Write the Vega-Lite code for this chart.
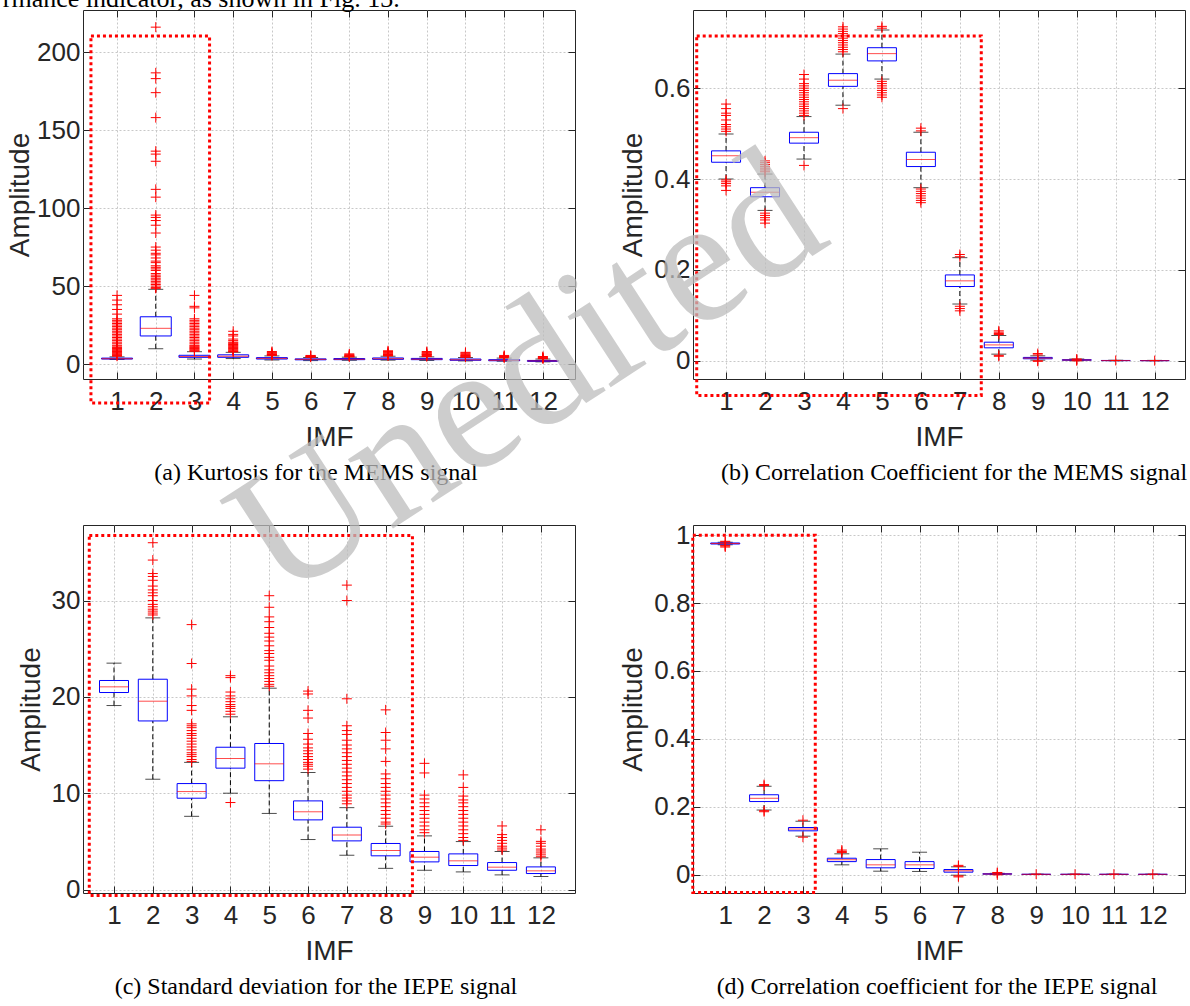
{
"$schema": "https://vega.github.io/schema/vega-lite/v6.json",
"padding": {"left": 2, "top": -15, "right": 0, "bottom": 0},
"background": "white",
"config": {
  "view": {"stroke": "#262626", "strokeWidth": 1},
  "axis": {"labelFont": "Liberation Sans", "labelFontSize": 26, "labelColor": "#262626", "titleFont": "Liberation Sans", "titleFontSize": 28, "titleFontWeight": "normal", "titleColor": "#262626", "domain": false, "tickColor": "#262626", "tickSize": -7, "grid": true, "gridColor": "#c8c8c8", "gridDash": [2, 2], "labelFlush": false, "labelOverlap": false},
  "axisX": {"labelPadding": 16, "titlePadding": 9},
  "axisY": {"labelPadding": 10, "titlePadding": 6},
  "title": {"font": "Liberation Serif", "fontSize": 24, "fontWeight": "normal", "color": "#000000", "orient": "bottom", "anchor": "middle", "frame": "group", "offset": 10}
},
"datasets": {
"boxes": [
{"p":"a","imf":1,"lo":2.9,"q1":3.2,"med":3.4,"q3":3.8,"hi":4.6},
{"p":"a","imf":2,"lo":9.8,"q1":18.0,"med":22.9,"q3":30.3,"hi":47.9},
{"p":"a","imf":3,"lo":3.2,"q1":4.3,"med":4.8,"q3":5.6,"hi":7.9},
{"p":"a","imf":4,"lo":3.5,"q1":4.3,"med":5.0,"q3":5.9,"hi":7.5},
{"p":"a","imf":5,"lo":2.6,"q1":3.2,"med":3.6,"q3":4.1,"hi":5.2},
{"p":"a","imf":6,"lo":2.2,"q1":2.7,"med":3.0,"q3":3.3,"hi":4.2},
{"p":"a","imf":7,"lo":2.4,"q1":2.8,"med":3.1,"q3":3.5,"hi":4.4},
{"p":"a","imf":8,"lo":2.5,"q1":3.0,"med":3.4,"q3":3.9,"hi":5.0},
{"p":"a","imf":9,"lo":2.3,"q1":2.8,"med":3.1,"q3":3.6,"hi":4.6},
{"p":"a","imf":10,"lo":2.0,"q1":2.4,"med":2.7,"q3":3.2,"hi":4.2},
{"p":"a","imf":11,"lo":1.8,"q1":2.1,"med":2.4,"q3":2.8,"hi":3.8},
{"p":"a","imf":12,"lo":1.4,"q1":1.7,"med":2.0,"q3":2.3,"hi":3.2},
{"p":"b","imf":1,"lo":0.4,"q1":0.437,"med":0.451,"q3":0.462,"hi":0.499},
{"p":"b","imf":2,"lo":0.331,"q1":0.361,"med":0.371,"q3":0.381,"hi":0.411},
{"p":"b","imf":3,"lo":0.444,"q1":0.479,"med":0.491,"q3":0.503,"hi":0.5375},
{"p":"b","imf":4,"lo":0.5625,"q1":0.604,"med":0.6175,"q3":0.632,"hi":0.675},
{"p":"b","imf":5,"lo":0.62,"q1":0.66,"med":0.676,"q3":0.689,"hi":0.728},
{"p":"b","imf":6,"lo":0.381,"q1":0.4275,"med":0.443,"q3":0.459,"hi":0.503},
{"p":"b","imf":7,"lo":0.125,"q1":0.1635,"med":0.176,"q3":0.189,"hi":0.227},
{"p":"b","imf":8,"lo":0.0147,"q1":0.0286,"med":0.035,"q3":0.041,"hi":0.0557},
{"p":"b","imf":9,"lo":0.0015,"q1":0.0045,"med":0.006,"q3":0.0075,"hi":0.011},
{"p":"b","imf":10,"lo":0.0003,"q1":0.0012,"med":0.0018,"q3":0.0025,"hi":0.004},
{"p":"b","imf":11,"lo":0.0001,"q1":0.0004,"med":0.0006,"q3":0.0008,"hi":0.0013},
{"p":"b","imf":12,"lo":0.0001,"q1":0.0003,"med":0.0004,"q3":0.0006,"hi":0.001},
{"p":"c","imf":1,"lo":19.1,"q1":20.45,"med":21.04,"q3":21.7,"hi":23.5},
{"p":"c","imf":2,"lo":11.45,"q1":17.5,"med":19.55,"q3":21.83,"hi":28.2},
{"p":"c","imf":3,"lo":7.6,"q1":9.48,"med":10.17,"q3":11.0,"hi":13.2},
{"p":"c","imf":4,"lo":10.0,"q1":12.6,"med":13.6,"q3":14.77,"hi":17.93},
{"p":"c","imf":5,"lo":7.9,"q1":11.3,"med":13.05,"q3":15.16,"hi":20.9},
{"p":"c","imf":6,"lo":5.19,"q1":7.23,"med":8.07,"q3":9.2,"hi":12.15},
{"p":"c","imf":7,"lo":3.56,"q1":5.05,"med":5.67,"q3":6.47,"hi":8.5},
{"p":"c","imf":8,"lo":2.2,"q1":3.5,"med":4.05,"q3":4.78,"hi":6.57},
{"p":"c","imf":9,"lo":2.0,"q1":2.87,"med":3.36,"q3":3.95,"hi":5.57},
{"p":"c","imf":10,"lo":1.83,"q1":2.49,"med":2.98,"q3":3.7,"hi":4.98},
{"p":"c","imf":11,"lo":1.52,"q1":2.0,"med":2.32,"q3":2.8,"hi":3.95},
{"p":"c","imf":12,"lo":1.35,"q1":1.66,"med":1.94,"q3":2.35,"hi":3.29},
{"p":"d","imf":1,"lo":0.972,"q1":0.974,"med":0.9755,"q3":0.977,"hi":0.979},
{"p":"d","imf":2,"lo":0.19,"q1":0.215,"med":0.2245,"q3":0.235,"hi":0.26},
{"p":"d","imf":3,"lo":0.113,"q1":0.1287,"med":0.134,"q3":0.1385,"hi":0.157},
{"p":"d","imf":4,"lo":0.0285,"q1":0.038,"med":0.0435,"q3":0.048,"hi":0.061},
{"p":"d","imf":5,"lo":0.0098,"q1":0.0197,"med":0.0285,"q3":0.044,"hi":0.0757},
{"p":"d","imf":6,"lo":0.009,"q1":0.0177,"med":0.0285,"q3":0.038,"hi":0.0657},
{"p":"d","imf":7,"lo":-0.002,"q1":0.0069,"med":0.011,"q3":0.0147,"hi":0.0226},
{"p":"d","imf":8,"lo":0.0002,"q1":0.001,"med":0.0015,"q3":0.0022,"hi":0.0035},
{"p":"d","imf":9,"lo":0.0001,"q1":0.0003,"med":0.0005,"q3":0.0007,"hi":0.001},
{"p":"d","imf":10,"lo":0.0001,"q1":0.0003,"med":0.0005,"q3":0.0007,"hi":0.001},
{"p":"d","imf":11,"lo":0.0001,"q1":0.0003,"med":0.0005,"q3":0.0007,"hi":0.001},
{"p":"d","imf":12,"lo":0.0001,"q1":0.0003,"med":0.0005,"q3":0.0007,"hi":0.001}
],
"outl": [
{"p":"a","imf":1,"v":44},{"p":"a","imf":1,"v":41},{"p":"a","imf":1,"v":38},{"p":"a","imf":1,"v":35},{"p":"a","imf":1,"v":32},{"p":"a","imf":1,"v":29},{"p":"a","imf":1,"v":28},{"p":"a","imf":1,"v":27},{"p":"a","imf":1,"v":26},{"p":"a","imf":1,"v":25},{"p":"a","imf":1,"v":24},{"p":"a","imf":1,"v":23},{"p":"a","imf":1,"v":22},{"p":"a","imf":1,"v":21},{"p":"a","imf":1,"v":20},{"p":"a","imf":1,"v":19},{"p":"a","imf":1,"v":18},{"p":"a","imf":1,"v":17},{"p":"a","imf":1,"v":16},{"p":"a","imf":1,"v":15},{"p":"a","imf":1,"v":14},{"p":"a","imf":1,"v":13},{"p":"a","imf":1,"v":12},{"p":"a","imf":1,"v":11},{"p":"a","imf":1,"v":10.5},{"p":"a","imf":1,"v":10},{"p":"a","imf":1,"v":9.5},{"p":"a","imf":1,"v":9},{"p":"a","imf":1,"v":8.5},{"p":"a","imf":1,"v":8},{"p":"a","imf":1,"v":7.5},{"p":"a","imf":1,"v":7},{"p":"a","imf":1,"v":6.5},{"p":"a","imf":1,"v":6},{"p":"a","imf":1,"v":5.5},{"p":"a","imf":1,"v":5},
{"p":"a","imf":2,"v":216},{"p":"a","imf":2,"v":186.7},{"p":"a","imf":2,"v":183},{"p":"a","imf":2,"v":174},{"p":"a","imf":2,"v":158},{"p":"a","imf":2,"v":136.5},{"p":"a","imf":2,"v":134.6},{"p":"a","imf":2,"v":130},{"p":"a","imf":2,"v":112},{"p":"a","imf":2,"v":107},{"p":"a","imf":2,"v":95.5},{"p":"a","imf":2,"v":94},{"p":"a","imf":2,"v":92},{"p":"a","imf":2,"v":89},{"p":"a","imf":2,"v":84},{"p":"a","imf":2,"v":75},{"p":"a","imf":2,"v":73},{"p":"a","imf":2,"v":71},{"p":"a","imf":2,"v":70},{"p":"a","imf":2,"v":68},{"p":"a","imf":2,"v":66},{"p":"a","imf":2,"v":65},{"p":"a","imf":2,"v":63},{"p":"a","imf":2,"v":62},{"p":"a","imf":2,"v":61},{"p":"a","imf":2,"v":60},{"p":"a","imf":2,"v":58},{"p":"a","imf":2,"v":57},{"p":"a","imf":2,"v":56},{"p":"a","imf":2,"v":55},{"p":"a","imf":2,"v":54},{"p":"a","imf":2,"v":53},{"p":"a","imf":2,"v":52},{"p":"a","imf":2,"v":51},{"p":"a","imf":2,"v":50},{"p":"a","imf":2,"v":49},{"p":"a","imf":2,"v":48.5},
{"p":"a","imf":3,"v":44},{"p":"a","imf":3,"v":37},{"p":"a","imf":3,"v":36},{"p":"a","imf":3,"v":29},{"p":"a","imf":3,"v":28},{"p":"a","imf":3,"v":27},{"p":"a","imf":3,"v":26},{"p":"a","imf":3,"v":25},{"p":"a","imf":3,"v":24},{"p":"a","imf":3,"v":23},{"p":"a","imf":3,"v":22},{"p":"a","imf":3,"v":21},{"p":"a","imf":3,"v":20},{"p":"a","imf":3,"v":19},{"p":"a","imf":3,"v":18},{"p":"a","imf":3,"v":17},{"p":"a","imf":3,"v":16},{"p":"a","imf":3,"v":15},{"p":"a","imf":3,"v":14},{"p":"a","imf":3,"v":13},{"p":"a","imf":3,"v":12},{"p":"a","imf":3,"v":11.5},{"p":"a","imf":3,"v":11},{"p":"a","imf":3,"v":10.5},{"p":"a","imf":3,"v":10},{"p":"a","imf":3,"v":9.5},{"p":"a","imf":3,"v":9},{"p":"a","imf":3,"v":8.5},{"p":"a","imf":3,"v":8.2},
{"p":"a","imf":4,"v":21},{"p":"a","imf":4,"v":19},{"p":"a","imf":4,"v":18},{"p":"a","imf":4,"v":16},{"p":"a","imf":4,"v":15},{"p":"a","imf":4,"v":14},{"p":"a","imf":4,"v":13.5},{"p":"a","imf":4,"v":13},{"p":"a","imf":4,"v":12.5},{"p":"a","imf":4,"v":12},{"p":"a","imf":4,"v":11.5},{"p":"a","imf":4,"v":11},{"p":"a","imf":4,"v":10.5},{"p":"a","imf":4,"v":10},{"p":"a","imf":4,"v":9.5},{"p":"a","imf":4,"v":9},{"p":"a","imf":4,"v":8.5},{"p":"a","imf":4,"v":8},{"p":"a","imf":4,"v":7.8},
{"p":"a","imf":5,"v":8},{"p":"a","imf":5,"v":7.5},{"p":"a","imf":5,"v":7},{"p":"a","imf":5,"v":6.5},{"p":"a","imf":5,"v":6.2},{"p":"a","imf":5,"v":6},{"p":"a","imf":5,"v":5.8},{"p":"a","imf":5,"v":5.5},
{"p":"a","imf":6,"v":5.5},{"p":"a","imf":6,"v":5.2},{"p":"a","imf":6,"v":5},{"p":"a","imf":6,"v":4.8},{"p":"a","imf":6,"v":4.6},{"p":"a","imf":6,"v":4.4},
{"p":"a","imf":7,"v":6.5},{"p":"a","imf":7,"v":6},{"p":"a","imf":7,"v":5.5},{"p":"a","imf":7,"v":5.2},{"p":"a","imf":7,"v":5},{"p":"a","imf":7,"v":4.8},{"p":"a","imf":7,"v":4.6},
{"p":"a","imf":8,"v":8.5},{"p":"a","imf":8,"v":8},{"p":"a","imf":8,"v":7.5},{"p":"a","imf":8,"v":7},{"p":"a","imf":8,"v":6.5},{"p":"a","imf":8,"v":6.2},{"p":"a","imf":8,"v":6},{"p":"a","imf":8,"v":5.8},{"p":"a","imf":8,"v":5.5},{"p":"a","imf":8,"v":5.2},
{"p":"a","imf":9,"v":8},{"p":"a","imf":9,"v":7.5},{"p":"a","imf":9,"v":7},{"p":"a","imf":9,"v":6.5},{"p":"a","imf":9,"v":6.2},{"p":"a","imf":9,"v":6},{"p":"a","imf":9,"v":5.5},{"p":"a","imf":9,"v":5},{"p":"a","imf":9,"v":4.8},
{"p":"a","imf":10,"v":7.5},{"p":"a","imf":10,"v":7},{"p":"a","imf":10,"v":6.5},{"p":"a","imf":10,"v":6},{"p":"a","imf":10,"v":5.5},{"p":"a","imf":10,"v":5.2},{"p":"a","imf":10,"v":5},{"p":"a","imf":10,"v":4.6},{"p":"a","imf":10,"v":4.4},
{"p":"a","imf":11,"v":5.5},{"p":"a","imf":11,"v":5},{"p":"a","imf":11,"v":4.8},{"p":"a","imf":11,"v":4.5},{"p":"a","imf":11,"v":4.2},{"p":"a","imf":11,"v":4},
{"p":"a","imf":12,"v":4.8},{"p":"a","imf":12,"v":4.4},{"p":"a","imf":12,"v":4},{"p":"a","imf":12,"v":3.8},{"p":"a","imf":12,"v":3.6},{"p":"a","imf":12,"v":3.4},
{"p":"b","imf":1,"v":0.565},{"p":"b","imf":1,"v":0.555},{"p":"b","imf":1,"v":0.545},{"p":"b","imf":1,"v":0.54},{"p":"b","imf":1,"v":0.53},{"p":"b","imf":1,"v":0.52},{"p":"b","imf":1,"v":0.515},{"p":"b","imf":1,"v":0.51},{"p":"b","imf":1,"v":0.505},{"p":"b","imf":1,"v":0.398},{"p":"b","imf":1,"v":0.394},{"p":"b","imf":1,"v":0.39},{"p":"b","imf":1,"v":0.385},{"p":"b","imf":1,"v":0.375},
{"p":"b","imf":2,"v":0.44},{"p":"b","imf":2,"v":0.436},{"p":"b","imf":2,"v":0.432},{"p":"b","imf":2,"v":0.428},{"p":"b","imf":2,"v":0.424},{"p":"b","imf":2,"v":0.42},{"p":"b","imf":2,"v":0.416},{"p":"b","imf":2,"v":0.325},{"p":"b","imf":2,"v":0.32},{"p":"b","imf":2,"v":0.315},{"p":"b","imf":2,"v":0.31},{"p":"b","imf":2,"v":0.303},
{"p":"b","imf":3,"v":0.63},{"p":"b","imf":3,"v":0.62},{"p":"b","imf":3,"v":0.61},{"p":"b","imf":3,"v":0.605},{"p":"b","imf":3,"v":0.6},{"p":"b","imf":3,"v":0.595},{"p":"b","imf":3,"v":0.59},{"p":"b","imf":3,"v":0.585},{"p":"b","imf":3,"v":0.58},{"p":"b","imf":3,"v":0.575},{"p":"b","imf":3,"v":0.57},{"p":"b","imf":3,"v":0.565},{"p":"b","imf":3,"v":0.56},{"p":"b","imf":3,"v":0.555},{"p":"b","imf":3,"v":0.55},{"p":"b","imf":3,"v":0.545},{"p":"b","imf":3,"v":0.54},{"p":"b","imf":3,"v":0.43},
{"p":"b","imf":4,"v":0.735},{"p":"b","imf":4,"v":0.73},{"p":"b","imf":4,"v":0.725},{"p":"b","imf":4,"v":0.72},{"p":"b","imf":4,"v":0.715},{"p":"b","imf":4,"v":0.71},{"p":"b","imf":4,"v":0.705},{"p":"b","imf":4,"v":0.7},{"p":"b","imf":4,"v":0.695},{"p":"b","imf":4,"v":0.69},{"p":"b","imf":4,"v":0.685},{"p":"b","imf":4,"v":0.68},{"p":"b","imf":4,"v":0.555},
{"p":"b","imf":5,"v":0.736},{"p":"b","imf":5,"v":0.732},{"p":"b","imf":5,"v":0.615},{"p":"b","imf":5,"v":0.61},{"p":"b","imf":5,"v":0.605},{"p":"b","imf":5,"v":0.6},{"p":"b","imf":5,"v":0.595},{"p":"b","imf":5,"v":0.59},{"p":"b","imf":5,"v":0.585},{"p":"b","imf":5,"v":0.58},
{"p":"b","imf":6,"v":0.512},{"p":"b","imf":6,"v":0.506},{"p":"b","imf":6,"v":0.378},{"p":"b","imf":6,"v":0.373},{"p":"b","imf":6,"v":0.368},{"p":"b","imf":6,"v":0.363},{"p":"b","imf":6,"v":0.358},{"p":"b","imf":6,"v":0.353},{"p":"b","imf":6,"v":0.348},
{"p":"b","imf":7,"v":0.234},{"p":"b","imf":7,"v":0.229},{"p":"b","imf":7,"v":0.12},{"p":"b","imf":7,"v":0.115},{"p":"b","imf":7,"v":0.11},
{"p":"b","imf":8,"v":0.066},{"p":"b","imf":8,"v":0.063},{"p":"b","imf":8,"v":0.06},{"p":"b","imf":8,"v":0.058},{"p":"b","imf":8,"v":0.012},{"p":"b","imf":8,"v":0.01},
{"p":"b","imf":9,"v":0.016},{"p":"b","imf":9,"v":0.013},{"p":"b","imf":9,"v":0.0},{"p":"b","imf":9,"v":-0.001},
{"p":"b","imf":10,"v":0.004},{"p":"b","imf":10,"v":0.002},{"p":"b","imf":10,"v":0.0},
{"p":"b","imf":11,"v":0.0008},{"p":"b","imf":12,"v":0.0005},
{"p":"c","imf":2,"v":36.0},{"p":"c","imf":2,"v":34.2},{"p":"c","imf":2,"v":32.8},{"p":"c","imf":2,"v":32.5},{"p":"c","imf":2,"v":32.1},{"p":"c","imf":2,"v":31.5},{"p":"c","imf":2,"v":31.1},{"p":"c","imf":2,"v":30.8},{"p":"c","imf":2,"v":30.5},{"p":"c","imf":2,"v":30.0},{"p":"c","imf":2,"v":29.6},{"p":"c","imf":2,"v":29.35},{"p":"c","imf":2,"v":29.1},{"p":"c","imf":2,"v":28.9},{"p":"c","imf":2,"v":28.7},{"p":"c","imf":2,"v":28.5},
{"p":"c","imf":3,"v":27.5},{"p":"c","imf":3,"v":23.46},{"p":"c","imf":3,"v":20.8},{"p":"c","imf":3,"v":20.1},{"p":"c","imf":3,"v":19.1},{"p":"c","imf":3,"v":18.6},{"p":"c","imf":3,"v":17.2},{"p":"c","imf":3,"v":17.0},{"p":"c","imf":3,"v":16.8},{"p":"c","imf":3,"v":16.5},{"p":"c","imf":3,"v":16.2},{"p":"c","imf":3,"v":16.0},{"p":"c","imf":3,"v":15.7},{"p":"c","imf":3,"v":15.4},{"p":"c","imf":3,"v":15.1},{"p":"c","imf":3,"v":14.8},{"p":"c","imf":3,"v":14.5},{"p":"c","imf":3,"v":14.2},{"p":"c","imf":3,"v":14.0},{"p":"c","imf":3,"v":13.8},{"p":"c","imf":3,"v":13.5},{"p":"c","imf":3,"v":13.3},
{"p":"c","imf":4,"v":22.2},{"p":"c","imf":4,"v":22.0},{"p":"c","imf":4,"v":20.5},{"p":"c","imf":4,"v":20.1},{"p":"c","imf":4,"v":19.8},{"p":"c","imf":4,"v":19.5},{"p":"c","imf":4,"v":19.2},{"p":"c","imf":4,"v":19.0},{"p":"c","imf":4,"v":18.8},{"p":"c","imf":4,"v":18.5},{"p":"c","imf":4,"v":18.2},{"p":"c","imf":4,"v":9.03},
{"p":"c","imf":5,"v":30.5},{"p":"c","imf":5,"v":29.3},{"p":"c","imf":5,"v":28.3},{"p":"c","imf":5,"v":27.8},{"p":"c","imf":5,"v":27.2},{"p":"c","imf":5,"v":26.6},{"p":"c","imf":5,"v":26.2},{"p":"c","imf":5,"v":25.8},{"p":"c","imf":5,"v":25.3},{"p":"c","imf":5,"v":24.8},{"p":"c","imf":5,"v":24.5},{"p":"c","imf":5,"v":24.1},{"p":"c","imf":5,"v":23.8},{"p":"c","imf":5,"v":23.2},{"p":"c","imf":5,"v":22.8},{"p":"c","imf":5,"v":22.5},{"p":"c","imf":5,"v":22.2},{"p":"c","imf":5,"v":21.9},{"p":"c","imf":5,"v":21.6},{"p":"c","imf":5,"v":21.3},{"p":"c","imf":5,"v":21.1},
{"p":"c","imf":6,"v":20.6},{"p":"c","imf":6,"v":20.3},{"p":"c","imf":6,"v":18.6},{"p":"c","imf":6,"v":17.8},{"p":"c","imf":6,"v":16.2},{"p":"c","imf":6,"v":15.6},{"p":"c","imf":6,"v":15.1},{"p":"c","imf":6,"v":14.7},{"p":"c","imf":6,"v":14.4},{"p":"c","imf":6,"v":14.1},{"p":"c","imf":6,"v":13.8},{"p":"c","imf":6,"v":13.5},{"p":"c","imf":6,"v":13.2},{"p":"c","imf":6,"v":13.0},{"p":"c","imf":6,"v":12.8},{"p":"c","imf":6,"v":12.5},
{"p":"c","imf":7,"v":31.6},{"p":"c","imf":7,"v":30.0},{"p":"c","imf":7,"v":19.8},{"p":"c","imf":7,"v":17.0},{"p":"c","imf":7,"v":16.5},{"p":"c","imf":7,"v":16.1},{"p":"c","imf":7,"v":15.5},{"p":"c","imf":7,"v":15.0},{"p":"c","imf":7,"v":14.6},{"p":"c","imf":7,"v":14.2},{"p":"c","imf":7,"v":13.8},{"p":"c","imf":7,"v":13.4},{"p":"c","imf":7,"v":13.0},{"p":"c","imf":7,"v":12.6},{"p":"c","imf":7,"v":12.2},{"p":"c","imf":7,"v":11.8},{"p":"c","imf":7,"v":11.4},{"p":"c","imf":7,"v":11.0},{"p":"c","imf":7,"v":10.6},{"p":"c","imf":7,"v":10.2},{"p":"c","imf":7,"v":9.8},{"p":"c","imf":7,"v":9.5},{"p":"c","imf":7,"v":9.2},{"p":"c","imf":7,"v":8.9},
{"p":"c","imf":8,"v":18.65},{"p":"c","imf":8,"v":16.3},{"p":"c","imf":8,"v":15.5},{"p":"c","imf":8,"v":14.6},{"p":"c","imf":8,"v":13.3},{"p":"c","imf":8,"v":12.0},{"p":"c","imf":8,"v":11.5},{"p":"c","imf":8,"v":11.0},{"p":"c","imf":8,"v":10.6},{"p":"c","imf":8,"v":10.2},{"p":"c","imf":8,"v":9.8},{"p":"c","imf":8,"v":9.4},{"p":"c","imf":8,"v":9.0},{"p":"c","imf":8,"v":8.6},{"p":"c","imf":8,"v":8.2},{"p":"c","imf":8,"v":7.8},{"p":"c","imf":8,"v":7.4},{"p":"c","imf":8,"v":7.0},{"p":"c","imf":8,"v":6.8},
{"p":"c","imf":9,"v":13.1},{"p":"c","imf":9,"v":12.1},{"p":"c","imf":9,"v":9.8},{"p":"c","imf":9,"v":9.4},{"p":"c","imf":9,"v":9.0},{"p":"c","imf":9,"v":8.6},{"p":"c","imf":9,"v":8.2},{"p":"c","imf":9,"v":7.8},{"p":"c","imf":9,"v":7.4},{"p":"c","imf":9,"v":7.0},{"p":"c","imf":9,"v":6.6},{"p":"c","imf":9,"v":6.2},{"p":"c","imf":9,"v":5.9},
{"p":"c","imf":10,"v":11.9},{"p":"c","imf":10,"v":10.6},{"p":"c","imf":10,"v":9.7},{"p":"c","imf":10,"v":9.3},{"p":"c","imf":10,"v":9.0},{"p":"c","imf":10,"v":8.6},{"p":"c","imf":10,"v":8.2},{"p":"c","imf":10,"v":7.8},{"p":"c","imf":10,"v":7.4},{"p":"c","imf":10,"v":7.0},{"p":"c","imf":10,"v":6.6},{"p":"c","imf":10,"v":6.2},{"p":"c","imf":10,"v":5.8},{"p":"c","imf":10,"v":5.4},{"p":"c","imf":10,"v":5.1},
{"p":"c","imf":11,"v":6.6},{"p":"c","imf":11,"v":5.7},{"p":"c","imf":11,"v":5.4},{"p":"c","imf":11,"v":5.1},{"p":"c","imf":11,"v":4.8},{"p":"c","imf":11,"v":4.5},{"p":"c","imf":11,"v":4.3},{"p":"c","imf":11,"v":4.1},
{"p":"c","imf":12,"v":6.2},{"p":"c","imf":12,"v":5.0},{"p":"c","imf":12,"v":4.8},{"p":"c","imf":12,"v":4.5},{"p":"c","imf":12,"v":4.2},{"p":"c","imf":12,"v":4.0},{"p":"c","imf":12,"v":3.8},{"p":"c","imf":12,"v":3.6},{"p":"c","imf":12,"v":3.4},
{"p":"d","imf":1,"v":0.982},{"p":"d","imf":1,"v":0.98},{"p":"d","imf":1,"v":0.97},{"p":"d","imf":1,"v":0.968},{"p":"d","imf":1,"v":0.965},
{"p":"d","imf":2,"v":0.265},{"p":"d","imf":2,"v":0.262},{"p":"d","imf":2,"v":0.188},{"p":"d","imf":2,"v":0.185},
{"p":"d","imf":3,"v":0.16},{"p":"d","imf":3,"v":0.11},
{"p":"d","imf":4,"v":0.072},{"p":"d","imf":4,"v":0.068},{"p":"d","imf":4,"v":0.065},
{"p":"d","imf":7,"v":0.027},{"p":"d","imf":7,"v":0.024},{"p":"d","imf":7,"v":-0.004},{"p":"d","imf":7,"v":-0.007},
{"p":"d","imf":8,"v":0.006},{"p":"d","imf":8,"v":0.004},{"p":"d","imf":8,"v":-0.001},
{"p":"d","imf":9,"v":0.001},{"p":"d","imf":10,"v":0.001},{"p":"d","imf":11,"v":0.001},{"p":"d","imf":12,"v":0.001}
]
},
"columns": 2,
"spacing": {"row": 146, "column": 118},
"bounds": "flush",
"concat": [
{
"width": 492, "height": 369,
"title": {"text": "(a) Kurtosis for the MEMS signal", "dx": -13},
"resolve": {"axis": {"x": "independent", "y": "independent"}},
"layer": [
{"data": {"name": "boxes"}, "transform": [{"filter": "datum.p === 'a'"}],
 "mark": {"type": "rule", "color": "#000000", "strokeDash": [5, 3], "strokeWidth": 1},
 "encoding": {"x": {"field": "imf", "type": "quantitative", "scale": {"domain": [0.25, 12.7], "nice": false, "zero": false}, "axis": {"values": [1,2,3,4,5,6,7,8,9,10,11,12], "format": "d", "title": "IMF"}},
  "y": {"field": "lo", "type": "quantitative", "scale": {"domain": [-9.6, 227], "nice": false, "zero": false}, "axis": {"values": [0, 50, 100, 150, 200], "format": "d", "title": "Amplitude", "titlePadding": 2}},
  "y2": {"field": "q1"}}},
{"data": {"name": "boxes"}, "transform": [{"filter": "datum.p === 'a'"}],
 "mark": {"type": "rule", "color": "#000000", "strokeDash": [5, 3], "strokeWidth": 1},
 "encoding": {"x": {"field": "imf", "type": "quantitative", "scale": {"domain": [0.25, 12.7], "nice": false, "zero": false}, "axis": null},
  "y": {"field": "q3", "type": "quantitative", "scale": {"domain": [-9.6, 227], "nice": false, "zero": false}, "axis": null},
  "y2": {"field": "hi"}}},
{"data": {"name": "boxes"}, "transform": [{"filter": "datum.p === 'a'"}],
 "mark": {"type": "tick", "orient": "horizontal", "size": 15, "thickness": 1, "color": "#000000"},
 "encoding": {"x": {"field": "imf", "type": "quantitative", "scale": {"domain": [0.25, 12.7], "nice": false, "zero": false}, "axis": null},
  "y": {"field": "lo", "type": "quantitative", "scale": {"domain": [-9.6, 227], "nice": false, "zero": false}, "axis": null}}},
{"data": {"name": "boxes"}, "transform": [{"filter": "datum.p === 'a'"}],
 "mark": {"type": "tick", "orient": "horizontal", "size": 15, "thickness": 1, "color": "#000000"},
 "encoding": {"x": {"field": "imf", "type": "quantitative", "scale": {"domain": [0.25, 12.7], "nice": false, "zero": false}, "axis": null},
  "y": {"field": "hi", "type": "quantitative", "scale": {"domain": [-9.6, 227], "nice": false, "zero": false}, "axis": null}}},
{"data": {"name": "boxes"}, "transform": [{"filter": "datum.p === 'a'"}],
 "mark": {"type": "bar", "orient": "vertical", "size": 31, "fillOpacity": 0, "stroke": "#0000ff", "strokeWidth": 1},
 "encoding": {"x": {"field": "imf", "type": "quantitative", "scale": {"domain": [0.25, 12.7], "nice": false, "zero": false}, "axis": null},
  "y": {"field": "q1", "type": "quantitative", "scale": {"domain": [-9.6, 227], "nice": false, "zero": false}, "axis": null},
  "y2": {"field": "q3"}}},
{"data": {"name": "boxes"}, "transform": [{"filter": "datum.p === 'a'"}],
 "mark": {"type": "tick", "orient": "horizontal", "size": 31, "thickness": 1, "color": "#ff0000"},
 "encoding": {"x": {"field": "imf", "type": "quantitative", "scale": {"domain": [0.25, 12.7], "nice": false, "zero": false}, "axis": null},
  "y": {"field": "med", "type": "quantitative", "scale": {"domain": [-9.6, 227], "nice": false, "zero": false}, "axis": null}}},
{"data": {"name": "outl"}, "transform": [{"filter": "datum.p === 'a'"}],
 "mark": {"type": "point", "shape": "M-1,0L1,0M0,-1L0,1", "size": 100, "filled": false, "color": "#ff0000", "strokeWidth": 1, "opacity": 1},
 "encoding": {"x": {"field": "imf", "type": "quantitative", "scale": {"domain": [0.25, 12.7], "nice": false, "zero": false}, "axis": null},
  "y": {"field": "v", "type": "quantitative", "scale": {"domain": [-9.6, 227], "nice": false, "zero": false}, "axis": null}}},
{"data": {"values": [{}]},
 "mark": {"type": "rect", "filled": false, "color": "#ff0000", "strokeWidth": 3, "strokeDash": [3, 3], "clip": false},
 "encoding": {"x": {"datum": 0.326, "type": "quantitative", "scale": {"domain": [0.25, 12.7], "nice": false, "zero": false}, "axis": null}, "x2": {"datum": 3.39},
  "y": {"datum": 210.3, "type": "quantitative", "scale": {"domain": [-9.6, 227], "nice": false, "zero": false}, "axis": null}, "y2": {"datum": -25}}},
{"data": {"values": [{}]},
 "mark": {"type": "text", "text": "rmance indicator, as shown in Fig. 13.", "font": "Liberation Serif", "fontSize": 26, "align": "left", "baseline": "alphabetic", "color": "#000000"},
 "encoding": {"x": {"datum": -1.95, "type": "quantitative", "scale": {"domain": [0.25, 12.7], "nice": false, "zero": false}, "axis": null},
  "y": {"datum": 228.9, "type": "quantitative", "scale": {"domain": [-9.6, 227], "nice": false, "zero": false}, "axis": null}}},
{"data": {"name": "boxes"}, "transform": [{"filter": "datum.p === 'a'"}],
 "mark": {"type": "point", "opacity": 0},
 "encoding": {"x": {"field": "imf", "type": "quantitative", "scale": {"domain": [0.25, 12.7], "nice": false, "zero": false}, "axis": {"orient": "top", "values": [1,2,3,4,5,6,7,8,9,10,11,12], "labels": false, "title": null, "grid": false}},
  "y": {"field": "med", "type": "quantitative", "scale": {"domain": [-9.6, 227], "nice": false, "zero": false}, "axis": {"orient": "right", "values": [0, 50, 100, 150, 200], "labels": false, "title": null, "grid": false}}}}
]
},
{
"width": 492, "height": 369,
"title": {"text": "(b) Correlation Coefficient for the MEMS signal", "dx": 15},
"resolve": {"axis": {"x": "independent", "y": "independent"}},
"layer": [
{"data": {"name": "boxes"}, "transform": [{"filter": "datum.p === 'b'"}],
 "mark": {"type": "rule", "color": "#000000", "strokeDash": [5, 3], "strokeWidth": 1},
 "encoding": {"x": {"field": "imf", "type": "quantitative", "scale": {"domain": [0.28, 12.65], "nice": false, "zero": false}, "axis": {"values": [1,2,3,4,5,6,7,8,9,10,11,12], "format": "d", "title": "IMF"}},
  "y": {"field": "lo", "type": "quantitative", "scale": {"domain": [-0.04, 0.772], "nice": false, "zero": false}, "axis": {"values": [0, 0.2, 0.4, 0.6], "format": "~g", "title": "Amplitude"}},
  "y2": {"field": "q1"}}},
{"data": {"name": "boxes"}, "transform": [{"filter": "datum.p === 'b'"}],
 "mark": {"type": "rule", "color": "#000000", "strokeDash": [5, 3], "strokeWidth": 1},
 "encoding": {"x": {"field": "imf", "type": "quantitative", "scale": {"domain": [0.28, 12.65], "nice": false, "zero": false}, "axis": null},
  "y": {"field": "q3", "type": "quantitative", "scale": {"domain": [-0.04, 0.772], "nice": false, "zero": false}, "axis": null},
  "y2": {"field": "hi"}}},
{"data": {"name": "boxes"}, "transform": [{"filter": "datum.p === 'b'"}],
 "mark": {"type": "tick", "orient": "horizontal", "size": 15, "thickness": 1, "color": "#000000"},
 "encoding": {"x": {"field": "imf", "type": "quantitative", "scale": {"domain": [0.28, 12.65], "nice": false, "zero": false}, "axis": null},
  "y": {"field": "lo", "type": "quantitative", "scale": {"domain": [-0.04, 0.772], "nice": false, "zero": false}, "axis": null}}},
{"data": {"name": "boxes"}, "transform": [{"filter": "datum.p === 'b'"}],
 "mark": {"type": "tick", "orient": "horizontal", "size": 15, "thickness": 1, "color": "#000000"},
 "encoding": {"x": {"field": "imf", "type": "quantitative", "scale": {"domain": [0.28, 12.65], "nice": false, "zero": false}, "axis": null},
  "y": {"field": "hi", "type": "quantitative", "scale": {"domain": [-0.04, 0.772], "nice": false, "zero": false}, "axis": null}}},
{"data": {"name": "boxes"}, "transform": [{"filter": "datum.p === 'b'"}],
 "mark": {"type": "bar", "orient": "vertical", "size": 29, "fillOpacity": 0, "stroke": "#0000ff", "strokeWidth": 1},
 "encoding": {"x": {"field": "imf", "type": "quantitative", "scale": {"domain": [0.28, 12.65], "nice": false, "zero": false}, "axis": null},
  "y": {"field": "q1", "type": "quantitative", "scale": {"domain": [-0.04, 0.772], "nice": false, "zero": false}, "axis": null},
  "y2": {"field": "q3"}}},
{"data": {"name": "boxes"}, "transform": [{"filter": "datum.p === 'b'"}],
 "mark": {"type": "tick", "orient": "horizontal", "size": 29, "thickness": 1, "color": "#ff0000"},
 "encoding": {"x": {"field": "imf", "type": "quantitative", "scale": {"domain": [0.28, 12.65], "nice": false, "zero": false}, "axis": null},
  "y": {"field": "med", "type": "quantitative", "scale": {"domain": [-0.04, 0.772], "nice": false, "zero": false}, "axis": null}}},
{"data": {"name": "outl"}, "transform": [{"filter": "datum.p === 'b'"}],
 "mark": {"type": "point", "shape": "M-1,0L1,0M0,-1L0,1", "size": 100, "filled": false, "color": "#ff0000", "strokeWidth": 1, "opacity": 1},
 "encoding": {"x": {"field": "imf", "type": "quantitative", "scale": {"domain": [0.28, 12.65], "nice": false, "zero": false}, "axis": null},
  "y": {"field": "v", "type": "quantitative", "scale": {"domain": [-0.04, 0.772], "nice": false, "zero": false}, "axis": null}}},
{"data": {"values": [{}]},
 "mark": {"type": "rect", "filled": false, "color": "#ff0000", "strokeWidth": 3, "strokeDash": [3, 3], "clip": false},
 "encoding": {"x": {"datum": 0.247, "type": "quantitative", "scale": {"domain": [0.28, 12.65], "nice": false, "zero": false}, "axis": null}, "x2": {"datum": 7.55},
  "y": {"datum": 0.715, "type": "quantitative", "scale": {"domain": [-0.04, 0.772], "nice": false, "zero": false}, "axis": null}, "y2": {"datum": -0.0763}}},
{"data": {"name": "boxes"}, "transform": [{"filter": "datum.p === 'b'"}],
 "mark": {"type": "point", "opacity": 0},
 "encoding": {"x": {"field": "imf", "type": "quantitative", "scale": {"domain": [0.28, 12.65], "nice": false, "zero": false}, "axis": {"orient": "top", "values": [1,2,3,4,5,6,7,8,9,10,11,12], "labels": false, "title": null, "grid": false}},
  "y": {"field": "med", "type": "quantitative", "scale": {"domain": [-0.04, 0.772], "nice": false, "zero": false}, "axis": {"orient": "right", "values": [0, 0.2, 0.4, 0.6], "labels": false, "title": null, "grid": false}}}}
]
},
{
"width": 492, "height": 368,
"title": {"text": "(c) Standard deviation for the IEPE signal", "dx": -13},
"resolve": {"axis": {"x": "independent", "y": "independent"}},
"layer": [
{"data": {"name": "boxes"}, "transform": [{"filter": "datum.p === 'c'"}],
 "mark": {"type": "rule", "color": "#000000", "strokeDash": [5, 3], "strokeWidth": 1},
 "encoding": {"x": {"field": "imf", "type": "quantitative", "scale": {"domain": [0.33, 12.75], "nice": false, "zero": false}, "axis": {"values": [1,2,3,4,5,6,7,8,9,10,11,12], "format": "d", "title": "IMF"}},
  "y": {"field": "lo", "type": "quantitative", "scale": {"domain": [-0.36, 37.84], "nice": false, "zero": false}, "axis": {"values": [0, 10, 20, 30], "format": "d", "title": "Amplitude"}},
  "y2": {"field": "q1"}}},
{"data": {"name": "boxes"}, "transform": [{"filter": "datum.p === 'c'"}],
 "mark": {"type": "rule", "color": "#000000", "strokeDash": [5, 3], "strokeWidth": 1},
 "encoding": {"x": {"field": "imf", "type": "quantitative", "scale": {"domain": [0.33, 12.75], "nice": false, "zero": false}, "axis": null},
  "y": {"field": "q3", "type": "quantitative", "scale": {"domain": [-0.36, 37.84], "nice": false, "zero": false}, "axis": null},
  "y2": {"field": "hi"}}},
{"data": {"name": "boxes"}, "transform": [{"filter": "datum.p === 'c'"}],
 "mark": {"type": "tick", "orient": "horizontal", "size": 15, "thickness": 1, "color": "#000000"},
 "encoding": {"x": {"field": "imf", "type": "quantitative", "scale": {"domain": [0.33, 12.75], "nice": false, "zero": false}, "axis": null},
  "y": {"field": "lo", "type": "quantitative", "scale": {"domain": [-0.36, 37.84], "nice": false, "zero": false}, "axis": null}}},
{"data": {"name": "boxes"}, "transform": [{"filter": "datum.p === 'c'"}],
 "mark": {"type": "tick", "orient": "horizontal", "size": 15, "thickness": 1, "color": "#000000"},
 "encoding": {"x": {"field": "imf", "type": "quantitative", "scale": {"domain": [0.33, 12.75], "nice": false, "zero": false}, "axis": null},
  "y": {"field": "hi", "type": "quantitative", "scale": {"domain": [-0.36, 37.84], "nice": false, "zero": false}, "axis": null}}},
{"data": {"name": "boxes"}, "transform": [{"filter": "datum.p === 'c'"}],
 "mark": {"type": "bar", "orient": "vertical", "size": 29, "fillOpacity": 0, "stroke": "#0000ff", "strokeWidth": 1},
 "encoding": {"x": {"field": "imf", "type": "quantitative", "scale": {"domain": [0.33, 12.75], "nice": false, "zero": false}, "axis": null},
  "y": {"field": "q1", "type": "quantitative", "scale": {"domain": [-0.36, 37.84], "nice": false, "zero": false}, "axis": null},
  "y2": {"field": "q3"}}},
{"data": {"name": "boxes"}, "transform": [{"filter": "datum.p === 'c'"}],
 "mark": {"type": "tick", "orient": "horizontal", "size": 29, "thickness": 1, "color": "#ff0000"},
 "encoding": {"x": {"field": "imf", "type": "quantitative", "scale": {"domain": [0.33, 12.75], "nice": false, "zero": false}, "axis": null},
  "y": {"field": "med", "type": "quantitative", "scale": {"domain": [-0.36, 37.84], "nice": false, "zero": false}, "axis": null}}},
{"data": {"name": "outl"}, "transform": [{"filter": "datum.p === 'c'"}],
 "mark": {"type": "point", "shape": "M-1,0L1,0M0,-1L0,1", "size": 100, "filled": false, "color": "#ff0000", "strokeWidth": 1, "opacity": 1},
 "encoding": {"x": {"field": "imf", "type": "quantitative", "scale": {"domain": [0.33, 12.75], "nice": false, "zero": false}, "axis": null},
  "y": {"field": "v", "type": "quantitative", "scale": {"domain": [-0.36, 37.84], "nice": false, "zero": false}, "axis": null}}},
{"data": {"values": [{}]},
 "mark": {"type": "rect", "filled": false, "color": "#ff0000", "strokeWidth": 3, "strokeDash": [3, 3], "clip": false},
 "encoding": {"x": {"datum": 0.363, "type": "quantitative", "scale": {"domain": [0.33, 12.75], "nice": false, "zero": false}, "axis": null}, "x2": {"datum": 8.69},
  "y": {"datum": 36.75, "type": "quantitative", "scale": {"domain": [-0.36, 37.84], "nice": false, "zero": false}, "axis": null}, "y2": {"datum": -0.62}}},
{"data": {"name": "boxes"}, "transform": [{"filter": "datum.p === 'c'"}],
 "mark": {"type": "point", "opacity": 0},
 "encoding": {"x": {"field": "imf", "type": "quantitative", "scale": {"domain": [0.33, 12.75], "nice": false, "zero": false}, "axis": {"orient": "top", "values": [1,2,3,4,5,6,7,8,9,10,11,12], "labels": false, "title": null, "grid": false}},
  "y": {"field": "med", "type": "quantitative", "scale": {"domain": [-0.36, 37.84], "nice": false, "zero": false}, "axis": {"orient": "right", "values": [0, 10, 20, 30], "labels": false, "title": null, "grid": false}}}},
{"data": {"values": [{}]},
 "mark": {"type": "text", "text": "Unedited", "font": "Liberation Serif", "fontSize": 180, "angle": -33, "align": "center", "baseline": "middle", "color": "#bdbdbd", "opacity": 0.75},
 "encoding": {"x": {"datum": 11.66, "type": "quantitative", "scale": {"domain": [0.33, 12.75], "nice": false, "zero": false}, "axis": null},
  "y": {"datum": 53.25, "type": "quantitative", "scale": {"domain": [-0.36, 37.84], "nice": false, "zero": false}, "axis": null}}}
]
},
{
"width": 492, "height": 368,
"title": {"text": "(d) Correlation coefficient for the IEPE signal", "dx": -2},
"resolve": {"axis": {"x": "independent", "y": "independent"}},
"layer": [
{"data": {"name": "boxes"}, "transform": [{"filter": "datum.p === 'd'"}],
 "mark": {"type": "rule", "color": "#000000", "strokeDash": [5, 3], "strokeWidth": 1},
 "encoding": {"x": {"field": "imf", "type": "quantitative", "scale": {"domain": [0.3, 12.7], "nice": false, "zero": false}, "axis": {"values": [1,2,3,4,5,6,7,8,9,10,11,12], "format": "d", "title": "IMF"}},
  "y": {"field": "lo", "type": "quantitative", "scale": {"domain": [-0.0545, 1.03], "nice": false, "zero": false}, "axis": {"values": [0, 0.2, 0.4, 0.6, 0.8, 1], "format": "~g", "title": "Amplitude"}},
  "y2": {"field": "q1"}}},
{"data": {"name": "boxes"}, "transform": [{"filter": "datum.p === 'd'"}],
 "mark": {"type": "rule", "color": "#000000", "strokeDash": [5, 3], "strokeWidth": 1},
 "encoding": {"x": {"field": "imf", "type": "quantitative", "scale": {"domain": [0.3, 12.7], "nice": false, "zero": false}, "axis": null},
  "y": {"field": "q3", "type": "quantitative", "scale": {"domain": [-0.0545, 1.03], "nice": false, "zero": false}, "axis": null},
  "y2": {"field": "hi"}}},
{"data": {"name": "boxes"}, "transform": [{"filter": "datum.p === 'd'"}],
 "mark": {"type": "tick", "orient": "horizontal", "size": 15, "thickness": 1, "color": "#000000"},
 "encoding": {"x": {"field": "imf", "type": "quantitative", "scale": {"domain": [0.3, 12.7], "nice": false, "zero": false}, "axis": null},
  "y": {"field": "lo", "type": "quantitative", "scale": {"domain": [-0.0545, 1.03], "nice": false, "zero": false}, "axis": null}}},
{"data": {"name": "boxes"}, "transform": [{"filter": "datum.p === 'd'"}],
 "mark": {"type": "tick", "orient": "horizontal", "size": 15, "thickness": 1, "color": "#000000"},
 "encoding": {"x": {"field": "imf", "type": "quantitative", "scale": {"domain": [0.3, 12.7], "nice": false, "zero": false}, "axis": null},
  "y": {"field": "hi", "type": "quantitative", "scale": {"domain": [-0.0545, 1.03], "nice": false, "zero": false}, "axis": null}}},
{"data": {"name": "boxes"}, "transform": [{"filter": "datum.p === 'd'"}],
 "mark": {"type": "bar", "orient": "vertical", "size": 29, "fillOpacity": 0, "stroke": "#0000ff", "strokeWidth": 1},
 "encoding": {"x": {"field": "imf", "type": "quantitative", "scale": {"domain": [0.3, 12.7], "nice": false, "zero": false}, "axis": null},
  "y": {"field": "q1", "type": "quantitative", "scale": {"domain": [-0.0545, 1.03], "nice": false, "zero": false}, "axis": null},
  "y2": {"field": "q3"}}},
{"data": {"name": "boxes"}, "transform": [{"filter": "datum.p === 'd'"}],
 "mark": {"type": "tick", "orient": "horizontal", "size": 29, "thickness": 1, "color": "#ff0000"},
 "encoding": {"x": {"field": "imf", "type": "quantitative", "scale": {"domain": [0.3, 12.7], "nice": false, "zero": false}, "axis": null},
  "y": {"field": "med", "type": "quantitative", "scale": {"domain": [-0.0545, 1.03], "nice": false, "zero": false}, "axis": null}}},
{"data": {"name": "outl"}, "transform": [{"filter": "datum.p === 'd'"}],
 "mark": {"type": "point", "shape": "M-1,0L1,0M0,-1L0,1", "size": 100, "filled": false, "color": "#ff0000", "strokeWidth": 1, "opacity": 1},
 "encoding": {"x": {"field": "imf", "type": "quantitative", "scale": {"domain": [0.3, 12.7], "nice": false, "zero": false}, "axis": null},
  "y": {"field": "v", "type": "quantitative", "scale": {"domain": [-0.0545, 1.03], "nice": false, "zero": false}, "axis": null}}},
{"data": {"values": [{}]},
 "mark": {"type": "rect", "filled": false, "color": "#ff0000", "strokeWidth": 3, "strokeDash": [3, 3], "clip": false},
 "encoding": {"x": {"datum": 0.166, "type": "quantitative", "scale": {"domain": [0.3, 12.7], "nice": false, "zero": false}, "axis": null}, "x2": {"datum": 3.317},
  "y": {"datum": 1.0, "type": "quantitative", "scale": {"domain": [-0.0545, 1.03], "nice": false, "zero": false}, "axis": null}, "y2": {"datum": -0.053}}},
{"data": {"name": "boxes"}, "transform": [{"filter": "datum.p === 'd'"}],
 "mark": {"type": "point", "opacity": 0},
 "encoding": {"x": {"field": "imf", "type": "quantitative", "scale": {"domain": [0.3, 12.7], "nice": false, "zero": false}, "axis": {"orient": "top", "values": [1,2,3,4,5,6,7,8,9,10,11,12], "labels": false, "title": null, "grid": false}},
  "y": {"field": "med", "type": "quantitative", "scale": {"domain": [-0.0545, 1.03], "nice": false, "zero": false}, "axis": {"orient": "right", "values": [0, 0.2, 0.4, 0.6, 0.8, 1], "labels": false, "title": null, "grid": false}}}}
]
}
]
}
